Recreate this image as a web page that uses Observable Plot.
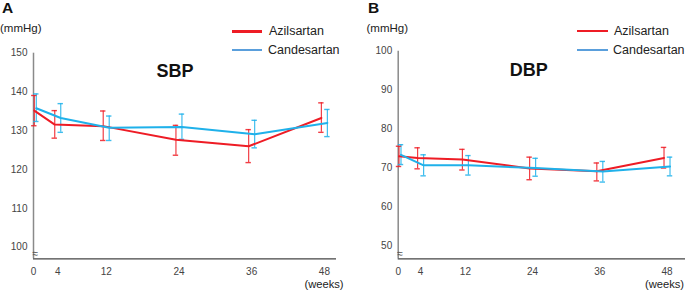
<!DOCTYPE html>
<html><head><meta charset="utf-8">
<script src="https://cdn.jsdelivr.net/npm/d3@7"></script>
<script src="https://cdn.jsdelivr.net/npm/@observablehq/plot@0.6"></script>
<style>
body{margin:0;background:#fff;font-family:"Liberation Sans",Arial,sans-serif;}
#wrap{position:relative;width:685px;height:291px;overflow:hidden;background:#fff;}
.abs{position:absolute;white-space:nowrap;line-height:1;}
svg{position:absolute;top:0;overflow:visible;}
</style></head><body><div id="wrap"></div>
<script>
// ---- data ----
const weeks = [0, 4, 12, 24, 36, 48];
const weekTicks = [0, 4, 12, 24, 36, 48];
const series = ["Azilsartan", "Candesartan"];

const sbpAzil   = [135.2, 131.6, 131.2, 127.7, 126.0, 133.3];
const sbpAzilLo = [131.3, 128.1, 127.5, 123.7, 121.8, 129.6];
const sbpAzilHi = [139.1, 135.2, 135.1, 131.4, 130.3, 137.2];
const sbpCand   = [135.8, 133.3, 130.8, 131.0, 129.1, 132.0];
const sbpCandLo = [132.4, 129.6, 127.5, 127.8, 125.6, 128.5];
const sbpCandHi = [139.5, 137.0, 133.8, 134.3, 132.7, 135.5];
const sbpTicks  = [100, 110, 120, 130, 140, 150];

const dbpAzil   = [73.0, 72.6, 72.2, 69.9, 69.2, 72.6];
const dbpAzilLo = [70.4, 69.8, 69.5, 67.0, 66.7, 70.0];
const dbpAzilHi = [75.6, 75.2, 74.8, 72.8, 71.3, 75.3];
const dbpCand   = [73.4, 70.7, 70.7, 70.0, 69.1, 70.4];
const dbpCandLo = [70.9, 68.0, 68.2, 67.9, 66.4, 68.0];
const dbpCandHi = [76.0, 73.4, 73.2, 72.5, 71.7, 72.8];
const dbpTicks  = [50, 60, 70, 80, 90, 100];

// ---- styles ----
const RED = "#ee1c25", BLUE = "#1fb1ea", LEG_BLUE = "#5a9fdc";
const color = {Azilsartan: RED, Candesartan: BLUE};
const FONT = '"Liberation Sans", Arial, sans-serif';
const wrap = document.getElementById("wrap");

function table(az, azLo, azHi, ca, caLo, caHi) {
  const rows = [];
  weeks.forEach((w, i) => rows.push({series: "Azilsartan", week: w, v: az[i], lo: azLo[i], hi: azHi[i]}));
  weeks.forEach((w, i) => rows.push({series: "Candesartan", week: w, v: ca[i], lo: caLo[i], hi: caHi[i]}));
  return rows;
}

function text(str, x, base, fs, opts = {}) {
  const d = document.createElement("div");
  d.className = "abs";
  d.textContent = str;
  d.style.left = x + "px";
  d.style.top = (base - 0.846 * fs) + "px";
  d.style.fontSize = fs + "px";
  d.style.fontWeight = opts.bold ? "bold" : "normal";
  d.style.color = opts.color || "#222";
  if (opts.center) d.style.transform = "translateX(-50%)";
  wrap.appendChild(d);
}
function line(x1, x2, y, col) {
  const d = document.createElement("div");
  d.className = "abs";
  d.style.left = x1 + "px"; d.style.width = (x2 - x1) + "px";
  d.style.top = (y - 1.25) + "px"; d.style.height = "2.5px";
  d.style.background = col;
  wrap.appendChild(d);
}

function panel(cfg) {
  const rows = table(...cfg.data);
  const pxPerWeek = (cfg.width - cfg.ml - cfg.mr) / cfg.xmax;
  const dodgePx = d => d.week === 0 ? (d.series === "Azilsartan" ? 0.8 : 2.8) : (d.series === "Azilsartan" ? -3 : 3);
  const xs = d => d.week + dodgePx(d) / pxPerWeek;
  const cap = 2.7 / pxPerWeek;
  const plot = Plot.plot({
    width: cfg.width, height: 291,
    marginLeft: cfg.ml, marginRight: cfg.mr, marginTop: cfg.mt, marginBottom: 32.7,
    style: {fontFamily: FONT, background: "transparent", overflow: "visible"},
    x: {domain: [0, cfg.xmax]},
    y: {domain: cfg.ydomain},
    marks: [
      Plot.ruleX([0], {stroke: "#8a8a8a", strokeWidth: 1.5}),
      Plot.ruleY([cfg.ydomain[0]], {stroke: "#444", strokeWidth: 1.2}),
      Plot.axisY({ticks: cfg.yticks, tickSize: 0, tickPadding: 6, label: null, fontSize: 10, color: "#444", tickFormat: d => d}),
      Plot.axisX({ticks: weekTicks, tickSize: 0, tickPadding: 9, label: null, fontSize: 10, color: "#444", tickFormat: d => d}),
      Plot.text(["≈"], {frameAnchor: "bottom-left", dx: -1, dy: -2, fontSize: 10, fill: "#444"}),
      Plot.ruleX(rows, {x: xs, y1: "lo", y2: "hi", stroke: d => color[d.series], strokeWidth: 1.2, strokeOpacity: 0.85}),
      Plot.ruleY(rows, {y: "hi", x1: d => xs(d) - cap, x2: d => xs(d) + cap, stroke: d => color[d.series], strokeWidth: 1.4, strokeOpacity: 0.85}),
      Plot.ruleY(rows, {y: "lo", x1: d => xs(d) - cap, x2: d => xs(d) + cap, stroke: d => color[d.series], strokeWidth: 1.4, strokeOpacity: 0.85}),
      Plot.line(rows.filter(d => d.series === "Azilsartan"), {x: xs, y: "v", stroke: RED, strokeWidth: 2}),
      Plot.line(rows.filter(d => d.series === "Candesartan"), {x: xs, y: "v", stroke: BLUE, strokeWidth: 2})
    ]
  });
  plot.style.left = cfg.left + "px";
  wrap.appendChild(plot);
}

panel({left: 0, width: 342, ml: 33, mr: 6, mt: 52.7, xmax: 50, ydomain: [97, 150], yticks: sbpTicks,
       data: [sbpAzil, sbpAzilLo, sbpAzilHi, sbpCand, sbpCandLo, sbpCandHi]});
panel({left: 350, width: 335, ml: 47.7, mr: 0, mt: 50.7, xmax: 51.3, ydomain: [46.7, 100], yticks: dbpTicks,
       data: [dbpAzil, dbpAzilLo, dbpAzilHi, dbpCand, dbpCandLo, dbpCandHi]});

// ---- titles, units, legends ----
text("A", 2, 12.8, 15.5, {bold: true, color: "#111"});
text("B", 368, 12.8, 15.5, {bold: true, color: "#111"});
text("(mmHg)", 0, 32.5, 11.5);
text("(mmHg)", 366.5, 32.5, 11.5);
text("SBP", 175, 77, 18, {bold: true, center: true, color: "#111"});
text("DBP", 528.7, 76, 18, {bold: true, center: true, color: "#111"});
text("(weeks)", 324, 288, 11.2, {center: true});
text("(weeks)", 664.5, 288, 11.2, {center: true});

line(232, 262, 31.7, RED);
line(232, 262, 50, LEG_BLUE);
text(series[0], 269, 36, 12.5);
text(series[1], 268, 55, 12.5);
line(577, 608, 31, RED);
line(577, 608, 50, LEG_BLUE);
text(series[0], 614, 35.5, 12.5);
text(series[1], 613, 54.5, 12.5);
</script></body></html>
